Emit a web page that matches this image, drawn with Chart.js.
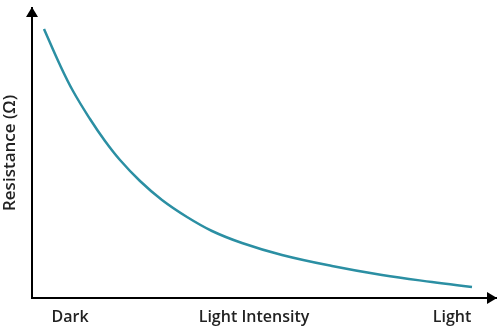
<!DOCTYPE html>
<html lang="en">
<head>
    <meta charset="UTF-8">
    <title>LDR Resistance vs Light Intensity</title>
    <style>
        body { margin: 0; background: #fff; }
        #wrap { width: 500px; height: 333px; }
    </style>
</head>
<body>
    <div id="wrap"><canvas id="ldrChart" width="500" height="333"></canvas></div>
    <script src="https://cdn.jsdelivr.net/npm/chart.js"></script>
    <script>
        // curve (arbitrary units)
        const intensity = [12, 28, 41, 58, 73, 88, 108, 130, 155, 180, 210, 250, 300, 350, 400, 440];
        const resistance = [269, 233, 207, 179, 157, 138, 117, 98, 81, 67, 55, 43, 32, 23, 16, 11];
        const tickValues = [38, 222, 420];
        const tickLabels = ['Dark', 'Light Intensity', 'Light'];

        const points = intensity.map((x, i) => ({ x: x, y: resistance[i] }));

        // arrowheads on the ends of both axes
        const arrows = {
            id: 'arrows',
            afterDraw(chart) {
                const c = chart.ctx, a = chart.chartArea;
                c.save();
                c.fillStyle = '#000';
                c.beginPath();
                c.moveTo(a.left, a.top - 1);
                c.lineTo(a.left - 6, a.top + 9);
                c.lineTo(a.left + 6, a.top + 9);
                c.closePath();
                c.fill();
                c.beginPath();
                c.moveTo(a.right + 1, a.bottom);
                c.lineTo(a.right - 9, a.bottom - 6);
                c.lineTo(a.right - 9, a.bottom + 6);
                c.closePath();
                c.fill();
                c.restore();
            }
        };

        new Chart(document.getElementById('ldrChart'), {
            type: 'line',
            data: {
                datasets: [{
                    data: points,
                    borderColor: '#2b8fa3',
                    borderWidth: 2.5,
                    pointRadius: 0,
                    tension: 0.4,
                    fill: false
                }]
            },
            plugins: [arrows],
            options: {
                responsive: false,
                animation: false,
                layout: { padding: { top: 8, right: 4, left: 0, bottom: 0 } },
                plugins: { legend: { display: false }, tooltip: { enabled: false } },
                scales: {
                    x: {
                        type: 'linear',
                        min: 0,
                        max: 464,
                        grid: { display: false },
                        border: { display: true, color: '#000', width: 2 },
                        afterBuildTicks: (s) => { s.ticks = tickValues.map(v => ({ value: v })); },
                        afterFit: (s) => { s.height = 35; },
                        ticks: {
                            padding: 2,
                            color: '#222',
                            maxRotation: 0,
                            autoSkip: false,
                            font: { family: 'Open Sans', size: 16, weight: '600' },
                            callback: (v) => tickLabels[tickValues.indexOf(v)]
                        }
                    },
                    y: {
                        min: 0,
                        max: 290,
                        grid: { display: false },
                        border: { display: true, color: '#000', width: 2 },
                        ticks: { display: false },
                        afterFit: (s) => { s.width = 32; },
                        title: {
                            display: true,
                            text: 'Resistance (Ω)',
                            color: '#222',
                            padding: { top: 0, bottom: 4 },
                            font: { family: 'Open Sans', size: 17, weight: '600' }
                        }
                    }
                }
            }
        });
    </script>
</body>
</html>
